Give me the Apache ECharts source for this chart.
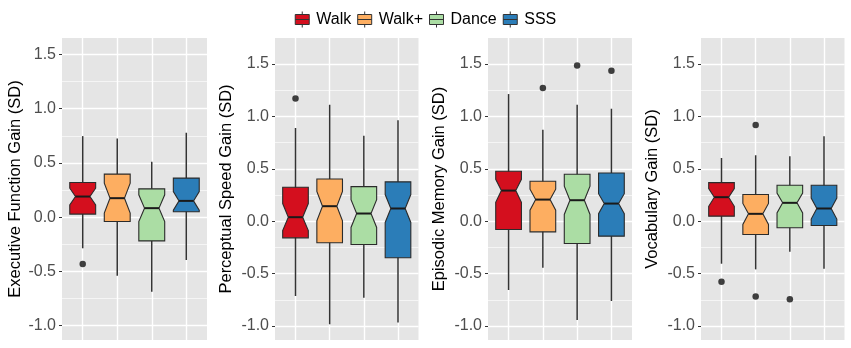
<!DOCTYPE html>
<html>
<head>
<meta charset="utf-8">
<script src="https://cdn.jsdelivr.net/npm/echarts@6/dist/echarts.min.js"></script>
<style>
  html, body { margin: 0; padding: 0; background: #fff; }
  #chart { width: 851px; height: 348px; }
</style>
</head>
<body>
<div id="chart"></div>
<script>
// groups and panels
const groups = ['Walk', 'Walk+', 'Dance', 'SSS'];
const colors = ['#D40F1E', '#FDAE61', '#ABDDA4', '#2B7DB8'];
const titles = [
  'Executive Function Gain (SD)',
  'Perceptual Speed Gain (SD)',
  'Episodic Memory Gain (SD)',
  'Vocabulary Gain (SD)'
];

// box stats, one row per panel, one value per group
const whiskerLow = [
  [-0.287, -0.54, -0.688, -0.395],
  [-0.714, -0.984, -0.73, -0.968],
  [-0.657, -0.444, -0.943, -0.762],
  [-0.406, -0.46, -0.292, -0.454]
];
const q1 = [
  [0.028, -0.04, -0.219, 0.05],
  [-0.159, -0.206, -0.222, -0.349],
  [-0.079, -0.102, -0.213, -0.143],
  [0.048, -0.127, -0.063, -0.041]
];
const notchLow = [
  [0.113, 0.037, -0.04, 0.064],
  [-0.09, 0.003, -0.06, -0.012],
  [0.18, 0.105, 0.064, 0.072],
  [0.142, -0.031, 0.079, 0.02]
];
const median = [
  [0.19, 0.175, 0.083, 0.15],
  [0.038, 0.143, 0.073, 0.121],
  [0.292, 0.206, 0.2, 0.168],
  [0.229, 0.07, 0.175, 0.121]
];
const notchHigh = [
  [0.267, 0.313, 0.206, 0.236],
  [0.168, 0.283, 0.206, 0.254],
  [0.40, 0.305, 0.334, 0.262],
  [0.312, 0.169, 0.269, 0.22]
];
const q3 = [
  [0.319, 0.397, 0.261, 0.36],
  [0.324, 0.403, 0.33, 0.375],
  [0.476, 0.381, 0.448, 0.46],
  [0.368, 0.254, 0.343, 0.343]
];
const whiskerHigh = [
  [0.747, 0.725, 0.51, 0.778],
  [0.889, 1.111, 0.816, 0.962],
  [1.213, 0.873, 1.111, 1.073],
  [0.603, 0.629, 0.619, 0.81]
];
// outliers: [group index, value]
const outliers = [
  [[0, -0.432]],
  [[0, 1.17]],
  [[1, 1.27], [2, 1.486], [3, 1.435]],
  [[0, -0.578], [1, 0.917], [1, -0.72], [2, -0.746]]
];

const yTicks = [-1.0, -0.5, 0.0, 0.5, 1.0, 1.5];
const yMinor = [-0.75, -0.25, 0.25, 0.75, 1.25];
const xTicks = [1, 2, 3, 4];

// layout
const panelLeft = [62, 275, 488, 701];
const panelWidth = [145, 143.5, 144, 143.5];
const yRange = [[-1.132, 1.651], [-1.134, 1.748], [-1.134, 1.748], [-1.134, 1.748]];
const nameGaps = [38, 40, 40, 40];

const font = 'Liberation Sans, Arial, sans-serif';
const HALF = 0.375;    // half box width
const NOTCH = 0.21;    // half width at notch

const boxIcon = 'path://M0,3 H14 V13 H0 Z M0,8 H14 M7,0 V3 M7,13 V16';

const chart = echarts.init(document.getElementById('chart'));

function renderBox(params, api) {
  const x = api.value(0);
  const lo = api.value(1), a = api.value(2), nl = api.value(3), m = api.value(4),
        nh = api.value(5), b = api.value(6), hi = api.value(7);
  const c = (dx, v) => api.coord([x + dx, v]);
  const top = c(0, hi), bot = c(0, lo);
  const poly = [
    c(-HALF, b), c(HALF, b), c(HALF, nh), c(NOTCH, m), c(HALF, nl),
    c(HALF, a), c(-HALF, a), c(-HALF, nl), c(-NOTCH, m), c(-HALF, nh)
  ];
  const ml = c(-NOTCH, m), mr = c(NOTCH, m);
  return {
    type: 'group',
    children: [
      { type: 'line', shape: { x1: top[0], y1: top[1], x2: bot[0], y2: bot[1] },
        style: { stroke: '#333', lineWidth: 1.5 } },
      { type: 'polygon', shape: { points: poly },
        style: { fill: api.visual('color'), stroke: '#2b2b2b', lineWidth: 1.1 } },
      { type: 'line', shape: { x1: ml[0], y1: ml[1], x2: mr[0], y2: mr[1] },
        style: { stroke: '#1a1a1a', lineWidth: 2 } }
    ]
  };
}

const grid = [], xAxis = [], yAxis = [], series = [];

for (let p = 0; p < 4; p++) {
  grid.push({
    left: panelLeft[p], top: 38, width: panelWidth[p], height: 302,
    show: true, backgroundColor: '#E5E5E5', borderWidth: 0
  });
  xAxis.push({
    type: 'value', gridIndex: p, min: 0.4, max: 4.6,
    axisLine: { show: false },
    axisTick: { show: true, length: 3, customValues: xTicks, lineStyle: { color: '#333' } },
    axisLabel: { show: false, customValues: xTicks },
    splitLine: { show: true, lineStyle: { color: '#fff', width: 1.4 } }
  });
  yAxis.push({
    type: 'value', gridIndex: p, min: yRange[p][0], max: yRange[p][1],
    name: titles[p], nameLocation: 'middle', nameGap: nameGaps[p],
    nameTextStyle: { color: '#000', fontSize: 16.5, fontFamily: font },
    axisLine: { show: false },
    axisTick: { show: true, length: 3, customValues: yTicks, lineStyle: { color: '#333' } },
    axisLabel: { color: '#4D4D4D', fontSize: 16, fontFamily: font, margin: 6,
                 customValues: yTicks, formatter: v => v.toFixed(1) },
    splitLine: { show: true, lineStyle: { color: '#fff', width: 1.4 } }
  });

  // one custom series per group so the legend picks the names up
  groups.forEach((g, i) => {
    series.push({
      type: 'custom', name: g, xAxisIndex: p, yAxisIndex: p,
      itemStyle: { color: colors[i] },
      renderItem: renderBox,
      encode: { x: 0, y: [1, 2, 3, 4, 5, 6, 7] },
      data: [[i + 1, whiskerLow[p][i], q1[p][i], notchLow[p][i], median[p][i],
              notchHigh[p][i], q3[p][i], whiskerHigh[p][i]]],
      z: 2
    });
  });

  series.push({
    type: 'scatter', name: 'outlier', xAxisIndex: p, yAxisIndex: p,
    symbolSize: 6.5, itemStyle: { color: '#111' },
    data: outliers[p].map(o => [o[0] + 1, o[1]]),
    z: 3
  });
}

// minor grid lines, thin axes on the same grids
for (let p = 0; p < 4; p++) {
  yAxis.push({
    type: 'value', gridIndex: p, min: yRange[p][0], max: yRange[p][1],
    axisLine: { show: false },
    axisTick: { show: false, customValues: yMinor },
    axisLabel: { show: false, customValues: yMinor },
    splitLine: { show: true, lineStyle: { color: '#fff', width: 0.6 } }
  });
}

chart.setOption({
  animation: false,
  backgroundColor: '#fff',
  legend: {
    top: 6, left: 'center',
    itemWidth: 14, itemHeight: 16, itemGap: 6,
    data: groups.map((g, i) => ({
      name: g, icon: boxIcon,
      itemStyle: { color: colors[i], borderColor: '#333', borderWidth: 1 }
    })),
    textStyle: { fontSize: 16, color: '#000', fontFamily: font, padding: [0, 0, 0, 2] }
  },
  grid: grid,
  xAxis: xAxis,
  yAxis: yAxis,
  series: series
});
</script>
</body>
</html>
